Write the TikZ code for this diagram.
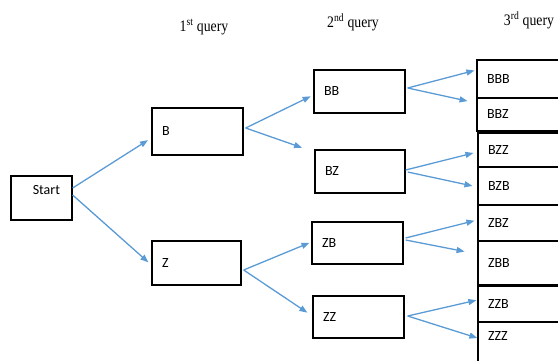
\documentclass[tikz,border=0pt]{standalone}
\usepackage{fontspec}
\setmainfont{Liberation Serif}
\newfontfamily\boxfont{Carlito}
\usetikzlibrary{arrows.meta}
\definecolor{arrblue}{HTML}{5B9BD5}
\begin{document}
\begin{tikzpicture}[x=1pt,y=-1pt,
  box/.style={draw=black,line width=1.3pt,inner xsep=10pt,inner ysep=0pt,align=left,
    font=\boxfont\fontsize{14}{16}\selectfont},
  qlabel/.style={font=\fontsize{16}{18}\selectfont,inner sep=0pt},
  arr/.style={draw=arrblue,line width=1.3pt,-{Triangle[length=8pt,width=6pt]}}]
\useasboundingbox (0,0) rectangle (558,360);
\clip (0,0) rectangle (558,360);
% query labels
\node[qlabel] (q1) at (204,27) {\scalebox{0.86}[1]{1\textsuperscript{st} query}};
\node[qlabel] (q2) at (353,22) {\scalebox{0.86}[1]{2\textsuperscript{nd} query}};
\node[qlabel] (q3) at (529,20) {\scalebox{0.86}[1]{3\textsuperscript{rd} query}};
% boxes
\node[box,minimum width=61pt,minimum height=44pt,inner xsep=12pt,text width=37pt,align=right,text height=9pt,text depth=17pt] (Start) at (41.5,198) {Start};
\node[box,minimum width=91pt,minimum height=47pt,text width=71pt] (B) at (197.5,131.5) {B};
\node[box,minimum width=89pt,minimum height=44pt,text width=69pt] (Z) at (196.5,263) {Z};
\node[box,minimum width=91pt,minimum height=43pt,text width=71pt] (BB) at (359.5,91.5) {BB};
\node[box,minimum width=90pt,minimum height=43pt,text width=70pt] (BZ) at (360,171.5) {BZ};
\node[box,minimum width=91pt,minimum height=42pt,text width=71pt] (ZB) at (357.5,243) {ZB};
\node[box,minimum width=91pt,minimum height=42pt,text width=71pt] (ZZ) at (358.5,317) {ZZ};
% third column
\node[box,minimum width=100pt,minimum height=38pt,text width=80pt] (BBB) at (527,79) {BBB};
\node[box,minimum width=100pt,minimum height=33pt,text width=80pt] (BBZ) at (527,114.5) {BBZ};
\node[box,minimum width=100pt,minimum height=34pt,text width=80pt] (BZZ) at (528,150) {BZZ};
\node[box,minimum width=100pt,minimum height=38pt,text width=80pt] (BZB) at (528,186) {BZB};
\node[box,minimum width=100pt,minimum height=36pt,text width=80pt] (ZBZ) at (528,223) {ZBZ};
\node[box,minimum width=100pt,minimum height=44pt,text width=80pt] (ZBB) at (528,263) {ZBB};
\node[box,minimum width=100pt,minimum height=36pt,text width=80pt] (ZZB) at (528,304) {ZZB};
\node[box,minimum width=100pt,minimum height=50pt,text width=80pt,text depth=22pt,text height=9pt] (ZZZ) at (528,347) {ZZZ};
% arrows
\draw[arr,shorten >=4pt] ([yshift=10pt]Start.east) -- ([yshift=-6.5pt]B.west);
\draw[arr,shorten >=4pt] ([yshift=3pt]Start.east) -- ([yshift=-2pt]Z.west);
\draw[arr,shorten >=3pt] ([yshift=3.5pt,xshift=2pt]B.east) -- ([yshift=-3.5pt]BB.west);
\draw[arr,shorten >=13pt] ([yshift=3.5pt,xshift=2pt]B.east) -- ([yshift=19.5pt]BZ.west);
\draw[arr,shorten >=2pt] ([yshift=3.5pt,xshift=2pt]BB.east) -- ([yshift=9pt]BBB.west);
\draw[arr,shorten >=9pt] ([yshift=3.5pt,xshift=2pt]BB.east) -- ([yshift=11.5pt]BBZ.west);
\draw[arr,shorten >=4pt] ([yshift=1.5pt]BZ.east) -- ([yshift=-2pt]BZZ.west);
\draw[arr,shorten >=5pt] ([yshift=-0.5pt,xshift=2pt]BZ.east) -- ([yshift=-1pt]BZB.west);
\draw[arr,shorten >=2pt] ([yshift=-7pt,xshift=2pt]Z.east) -- ([yshift=1pt]ZB.west);
\draw[arr,shorten >=6pt] ([yshift=-7pt,xshift=2pt]Z.east) -- ([yshift=1pt]ZZ.west);
\draw[arr,shorten >=3pt] ([yshift=5pt,xshift=2pt]ZB.east) -- ([yshift=3pt]ZBZ.west);
\draw[arr,shorten >=13pt] ([yshift=3pt,xshift=2pt]ZB.east) -- ([yshift=9pt]ZBB.west);
\draw[arr,shorten >=1pt] ([yshift=1pt,xshift=3pt]ZZ.east) -- ([yshift=4pt]ZZB.west);
\draw[arr,shorten >=0pt] ([yshift=1pt,xshift=3pt]ZZ.east) -- ([yshift=9pt]ZZZ.west);
\end{tikzpicture}
\end{document}
